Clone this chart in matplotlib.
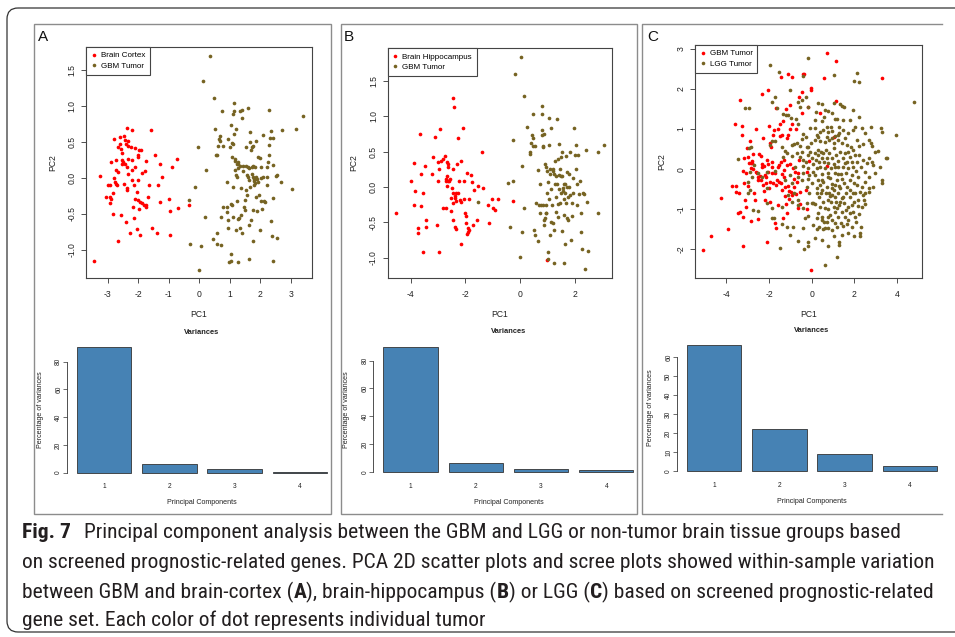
import matplotlib
matplotlib.use('Agg')
import matplotlib.pyplot as plt
import numpy as np
from matplotlib import font_manager
from matplotlib.patches import FancyBboxPatch, Rectangle
from matplotlib.lines import Line2D

W, H = 955, 637

# ---- values (PC1, PC2) ----
a_cortex = np.array([
    (-3.44, -1.15), (-3.24, 0.03), (-3.06, -0.26), (-2.98, -0.10), (-2.92, -0.10), (-2.92, -0.26),
    (-2.90, 0.22), (-2.89, -0.29), (-2.92, -0.35), (-2.84, -0.21), (-2.82, -0.50), (-2.78, 0.54),
    (-2.78, 0.00), (-2.73, 0.12), (-2.76, -0.05), (-2.71, -0.08), (-2.69, -0.10), (-2.71, 0.25),
    (-2.65, 0.43), (-2.65, 0.08), (-2.65, -0.87), (-2.58, 0.57), (-2.58, 0.48), (-2.55, 0.40),
    (-2.53, 0.20), (-2.53, 0.25), (-2.55, -0.52), (-2.52, 0.35), (-2.50, 0.22), (-2.46, 0.58),
    (-2.46, -0.08), (-2.43, 0.53), (-2.43, 0.20), (-2.41, -0.61), (-2.40, 0.47), (-2.38, 0.16),
    (-2.36, 0.70), (-2.38, -0.14), (-2.36, -0.17), (-2.32, 0.51), (-2.32, 0.45), (-2.32, 0.26),
    (-2.32, 0.06), (-2.27, -0.77), (-2.24, 0.44), (-2.21, 0.67), (-2.19, 0.25), (-2.19, 0.12),
    (-2.19, -0.02), (-2.16, -0.40), (-2.14, -0.55), (-2.12, -0.10), (-2.11, 0.42), (-2.11, -0.29),
    (-2.11, 0.16), (-2.05, -0.71), (-2.05, -0.19), (-2.02, 0.32), (-2.02, 0.30), (-2.01, -0.03),
    (-2.00, -0.30), (-1.97, 0.39), (-1.97, -0.43), (-1.95, -0.79), (-1.93, -0.33), (-1.90, 0.39),
    (-1.87, 0.07), (-1.86, -0.35), (-1.81, -0.38), (-1.78, 0.10), (-1.73, 0.24), (-1.73, -0.40),
    (-1.73, -0.37), (-1.67, -0.26), (-1.65, -0.10), (-1.59, 0.67), (-1.53, -0.69), (-1.45, 0.32),
    (-1.39, -0.77), (-1.34, -0.10), (-1.29, 0.20), (-1.29, -0.33), (-1.22, 0.01), (-0.98, -0.29),
    (-0.96, -0.46), (-0.96, -0.79), (-0.89, 0.16), (-0.71, 0.27), (-0.68, -0.41), (-0.34, -0.38),
])
a_gbm = np.array([
    (0.37, 1.70), (0.12, 1.35), (0.49, 1.11), (-0.04, 0.43), (-0.33, -0.30), (-0.15, -0.13),
    (-0.30, -0.91), (0.00, -1.28), (0.06, -0.95), (0.19, -0.54), (0.23, 0.11), (0.44, -0.85),
    (0.51, 0.69), (0.57, -0.76), (0.59, -0.92), (0.55, 0.32), (0.59, 0.32), (0.63, 0.45),
    (0.66, 0.55), (0.67, 0.59), (0.68, 0.52), (0.70, -0.93), (0.73, -0.54), (0.74, 0.93),
    (0.77, 0.45), (0.77, -0.40), (0.90, -0.40), (0.90, -0.05), (0.90, -0.47), (0.94, 0.55),
    (0.96, -0.58), (0.96, -0.70), (1.01, 0.44), (1.03, 0.74), (1.04, -1.05), (1.04, -0.36),
    (1.07, -0.37), (0.99, -1.17), (1.05, -1.16), (1.09, 0.49), (1.09, 0.30), (1.10, -0.54),
    (1.12, 0.89), (1.12, -0.12), (1.12, 0.48), (1.14, 0.93), (1.14, 1.04), (1.15, 0.61),
    (1.16, 0.24), (1.18, 0.11), (1.19, 0.27), (1.20, -0.72), (1.21, 0.69), (1.21, 0.04),
    (1.23, 0.20), (1.25, -0.32), (1.25, 0.01), (1.27, 0.14), (1.29, -0.57), (1.29, 0.20),
    (1.29, 0.23), (1.31, -0.56), (1.27, -1.17), (1.33, 0.17), (1.35, 0.94), (1.35, -0.69),
    (1.36, -0.14), (1.38, -0.52), (1.39, 0.83), (1.42, -0.76), (1.39, 0.95), (1.43, 0.10),
    (1.45, 0.17), (1.47, -0.40), (1.50, -0.30), (1.51, -0.44), (1.52, 0.44), (1.53, -0.17),
    (1.55, 0.17), (1.56, 0.04), (1.58, -0.23), (1.59, 0.16), (1.61, 0.02), (1.61, 0.98),
    (1.62, -1.13), (1.64, -0.65), (1.65, 0.14), (1.65, -0.03), (1.67, 0.64), (1.67, 0.50),
    (1.68, -0.12), (1.69, -0.58), (1.71, 0.39), (1.72, 0.06), (1.73, 0.16), (1.73, 0.44),
    (1.75, 0.02), (1.76, -0.87), (1.77, 0.45), (1.78, 0.17), (1.78, -0.45), (1.79, -0.04),
    (1.80, -0.01), (1.81, -0.09), (1.82, 0.16), (1.83, -0.01), (1.84, -0.07), (1.86, 0.02),
    (1.88, 0.51), (1.88, -0.26), (1.90, -0.46), (1.90, -0.01), (1.92, 0.29), (1.94, -0.06),
    (1.96, -0.23), (1.98, -0.72), (1.99, 0.28), (2.02, 0.00), (2.02, 0.16), (2.03, -0.32),
    (2.06, -0.43), (2.08, 0.60), (2.10, 0.01), (2.13, -0.32), (2.15, -0.33), (2.21, 0.16),
    (2.21, -0.10), (2.23, 0.01), (2.26, 0.22), (2.28, 0.95), (2.29, 0.32), (2.30, 0.46),
    (2.32, 0.56), (2.34, 0.65), (2.35, -0.60), (2.38, -0.81), (2.41, -0.27), (2.43, -1.15),
    (2.43, 0.56), (2.43, 0.18), (2.52, 0.03), (2.54, 0.05), (2.56, -0.84), (2.68, -0.05),
    (2.70, 0.67), (3.03, -0.15), (3.17, 0.69), (3.39, 0.86),
])
b_hippo = np.array([
    (-4.53, -0.36), (-3.99, 0.08), (-3.89, 0.34), (-3.84, -0.06), (-3.88, -0.25), (-3.74, -0.58),
    (-3.74, -0.65), (-3.67, 0.75), (-3.62, 0.18), (-3.63, -0.27), (-3.56, -0.08), (-3.56, -0.92),
    (-3.47, 0.30), (-3.45, -0.46), (-3.45, -0.56), (-3.21, 0.19), (-3.17, 0.43), (-3.11, 0.71),
    (-3.04, -0.53), (-3.00, 0.09), (-3.00, 0.35), (-2.97, 0.25), (-2.96, -0.91), (-2.94, 0.82),
    (-2.88, 0.37), (-2.83, -0.29), (-2.82, 0.39), (-2.74, 0.44), (-2.72, 0.09), (-2.71, -0.29),
    (-2.70, 0.11), (-2.69, 0.02), (-2.68, 0.36), (-2.67, 0.16), (-2.65, 0.29), (-2.63, 0.32),
    (-2.63, 0.08), (-2.59, 0.08), (-2.56, 0.11), (-2.53, -0.15), (-2.53, -0.34), (-2.50, -0.02),
    (-2.47, -0.22), (-2.45, 1.26), (-2.45, -0.09), (-2.44, 0.25), (-2.43, 1.13), (-2.44, -0.47),
    (-2.40, -0.12), (-2.38, -0.57), (-2.38, -0.15), (-2.36, -0.20), (-2.34, -0.09), (-2.32, 0.33),
    (-2.33, -0.59), (-2.28, -0.09), (-2.26, 0.69), (-2.24, 0.09), (-2.21, -0.18), (-2.17, -0.21),
    (-2.17, 0.37), (-2.16, -0.81), (-2.09, 0.84), (-2.06, 0.09), (-2.06, -0.17), (-2.01, -0.36),
    (-1.99, -0.51), (-1.97, -0.41), (-1.95, -0.66), (-1.95, 0.20), (-1.92, -0.58), (-1.92, -0.64),
    (-1.87, -0.17), (-1.81, 0.17), (-1.87, -0.60), (-1.75, 0.07), (-1.72, -0.54), (-1.68, -0.04),
    (-1.59, -0.46), (-1.55, 0.02), (-1.38, 0.49), (-1.35, -0.01), (-1.19, -0.25), (-1.13, -0.51),
    (-1.02, -0.17), (-0.98, -0.30), (-0.92, -0.33), (-0.80, -0.17), (-0.28, -0.19), (0.97, -1.03),
])
b_gbm = np.array([
    (0.02, 1.84), (-0.21, 1.59), (0.15, 1.28), (-0.25, 0.67), (-0.46, 0.06), (-0.28, 0.08),
    (-0.37, -0.56), (0.00, -0.99), (0.05, -0.64), (0.08, 0.30), (0.12, -0.30), (0.24, 0.85),
    (0.36, 0.49), (0.36, 0.47), (0.38, 0.62), (0.42, 0.74), (0.45, 0.69), (0.45, 1.03),
    (0.48, 0.58), (0.51, -0.61), (0.54, 0.58), (0.54, -0.68), (0.56, -0.23), (0.66, 0.24),
    (0.66, -0.76), (0.70, -0.25), (0.72, 0.04), (0.72, -0.36), (0.76, -0.25), (0.79, 0.81),
    (0.80, 1.14), (0.81, 1.03), (0.81, 0.73), (0.82, 0.58), (0.84, 0.57), (0.84, -0.25),
    (0.85, -0.54), (0.86, 0.75), (0.88, -0.47), (0.90, 0.32), (0.90, -0.43), (0.93, 0.29),
    (0.93, -0.25), (0.94, -0.36), (0.95, -0.36), (0.97, -0.09), (0.99, 0.22), (1.00, -1.02),
    (1.02, -0.91), (1.02, 0.07), (1.04, 0.97), (1.05, -0.17), (1.06, 0.59), (1.07, -0.67),
    (1.08, 0.25), (1.10, 0.18), (1.13, 0.84), (1.14, -0.03), (1.14, -0.49), (1.17, -0.25),
    (1.18, 0.26), (1.20, -0.51), (1.21, 0.23), (1.22, -0.60), (1.23, -1.07), (1.24, 0.18),
    (1.27, 0.04), (1.27, 0.37), (1.29, -0.35), (1.31, -0.14), (1.32, 0.16), (1.33, 0.04),
    (1.34, 0.96), (1.36, -0.24), (1.39, -0.42), (1.39, 0.39), (1.41, 0.61), (1.42, -0.03),
    (1.43, 0.17), (1.45, 0.26), (1.45, -0.23), (1.47, 0.42), (1.48, -0.09), (1.49, 0.15),
    (1.51, -0.62), (1.53, 0.50), (1.54, 0.15), (1.55, -0.05), (1.56, -0.02), (1.58, -0.40),
    (1.59, -1.07), (1.60, 0.05), (1.61, -0.17), (1.62, -0.81), (1.64, 0.04), (1.65, -0.09),
    (1.66, 0.44), (1.67, -0.22), (1.70, 0.00), (1.71, 0.21), (1.72, -0.43), (1.74, -0.14),
    (1.75, -0.47), (1.77, 0.00), (1.79, 0.18), (1.82, 0.50), (1.83, -0.11), (1.85, -0.75),
    (1.88, -0.41), (1.90, -0.22), (1.93, 0.13), (1.94, -0.08), (1.96, 0.84), (2.00, 0.46),
    (2.02, 0.59), (2.04, 0.25), (2.06, -0.25), (2.08, 0.05), (2.12, 0.46), (2.14, -0.10),
    (2.19, 0.08), (2.20, -0.36), (2.22, -0.64), (2.28, -0.09), (2.32, -0.10), (2.25, -0.87),
    (2.35, -1.16), (2.41, 0.52), (2.45, -0.21), (2.46, -0.90), (2.85, -0.37), (2.85, 0.49),
    (3.05, 0.60), (-1.55, -0.21),
])
c_gbm = np.array([
    (-5.08, -2.03), (-4.72, -1.66), (-4.27, -0.73), (-3.91, -1.49), (-3.75, -0.41), (-3.59, 1.14),
    (-3.56, -0.41), (-3.56, -0.56), (-3.47, -1.09), (-3.41, -0.60), (-3.36, 1.73), (-3.36, -1.06),
    (-3.28, 1.09), (-3.28, 0.85), (-3.23, -0.05), (-3.20, -1.20), (-3.20, -1.93), (-3.19, 0.27),
    (-3.16, -0.34), (-3.13, -0.77), (-3.09, -0.09), (-3.08, -0.94), (-3.05, 0.52), (-3.00, -0.42),
    (-2.97, 0.31), (-2.94, 0.15), (-2.89, 0.70), (-2.86, 0.15), (-2.84, 0.02), (-2.83, -1.29),
    (-2.81, 0.20), (-2.78, 0.16), (-2.77, 0.39), (-2.73, 0.00), (-2.69, -0.59), (-2.66, -0.77),
    (-2.63, 1.00), (-2.61, -0.06), (-2.56, -0.10), (-2.53, -0.20), (-2.50, -1.24), (-2.50, -0.27),
    (-2.45, 0.37), (-2.42, -0.17), (-2.39, 0.33), (-2.38, -0.27), (-2.34, 0.05), (-2.31, 1.87),
    (-2.31, 0.13), (-2.28, -0.39), (-2.27, 0.79), (-2.25, -0.54), (-2.23, 0.09), (-2.19, -0.14),
    (-2.19, -0.77), (-2.16, -0.20), (-2.13, -0.34), (-2.11, -1.83), (-2.09, 0.23), (-2.06, 0.12),
    (-2.03, 1.98), (-2.03, -0.06), (-2.00, 1.08), (-1.98, -0.48), (-1.97, -0.31), (-1.95, -0.81),
    (-1.94, 0.66), (-1.91, 0.56), (-1.88, 0.19), (-1.88, -0.10), (-1.84, 0.06), (-1.81, 0.85),
    (-1.80, -0.34), (-1.75, 0.98), (-1.72, -1.35), (-1.72, -0.10), (-1.69, -1.48), (-1.66, 1.52),
    (-1.66, -0.39), (-1.63, -0.27), (-1.59, 0.06), (-1.56, 1.00), (-1.56, -0.89), (-1.53, -0.31),
    (-1.52, 0.10), (-1.48, 0.83), (-1.47, 1.14), (-1.45, 0.17), (-1.44, 2.31), (-1.44, -0.35),
    (-1.41, -0.12), (-1.39, 0.85), (-1.38, -0.52), (-1.34, -1.21), (-1.33, 1.19), (-1.31, 0.23),
    (-1.30, -0.20), (-1.28, -0.02), (-1.25, -0.66), (-1.23, -0.45), (-1.22, -0.88), (-1.20, 1.50),
    (-1.17, 0.77), (-1.16, 0.10), (-1.14, -1.10), (-1.13, -0.41), (-1.09, 2.38), (-1.09, 0.85),
    (-1.06, -0.54), (-1.05, -0.74), (-1.02, 1.60), (-1.02, 0.14), (-1.00, 1.00), (-0.97, -0.58),
    (-0.94, 2.29), (-0.94, -0.64), (-0.91, 1.13), (-0.88, 0.02), (-0.84, -0.25), (-0.81, -0.44),
    (-0.78, -0.06), (-0.75, 1.00), (-0.72, -0.62), (-0.69, -0.33), (-0.66, -0.98), (-0.63, -0.09),
    (-0.59, 0.23), (-0.58, 1.79), (-0.55, -0.56), (-0.53, -0.88), (-0.47, 1.92), (-0.44, 1.39),
    (-0.41, 2.37), (-0.34, 2.37), (-0.28, -0.52), (-0.23, -1.00), (-0.20, -0.06), (-0.16, 1.54),
    (-0.11, 0.20), (-0.05, 2.02), (-0.03, 1.98), (-0.03, -2.52), (0.39, 1.39), (0.58, 2.27),
    (0.70, 2.89), (0.73, 0.09), (1.02, 0.81), (1.12, 2.70), (1.14, 1.71), (3.28, 2.27),
])
c_lgg = np.array([
    (-1.95, 2.60), (-1.53, 2.42), (-0.16, 2.77), (-0.39, 2.33), (-1.02, 1.98), (-1.72, 1.79),
    (-1.88, 1.68), (-3.13, 1.52), (-2.92, 1.52), (-1.61, 1.52), (-1.33, 1.37), (-1.22, 1.35),
    (-1.09, 1.35), (-0.97, 1.27), (-0.73, 1.24), (-0.66, 1.67), (-0.56, 1.54), (-0.47, 1.72),
    (-0.27, 1.80), (-0.16, 1.56), (0.20, 1.43), (0.31, 1.66), (0.47, 1.62), (0.63, 1.48),
    (0.75, 1.46), (1.02, 2.35), (1.05, 1.66), (1.33, 1.62), (1.41, 1.58), (1.53, 1.54),
    (1.91, 1.48), (2.11, 2.41), (1.98, 2.20), (2.23, 2.17), (2.22, 1.29), (4.81, 1.67),
    (1.09, 1.24), (1.17, 1.24), (1.45, 1.23), (1.28, 1.06), (0.47, 1.19), (0.70, 1.05),
    (0.89, 1.05), (-0.08, 1.02), (0.13, 1.02), (0.23, 0.85), (0.39, 0.94), (0.55, 0.98),
    (0.78, 0.94), (0.97, 0.95), (1.09, 0.83), (1.30, 0.91), (1.48, 0.98), (1.72, 0.90),
    (1.95, 0.98), (2.34, 1.04), (2.77, 1.05), (3.25, 1.02), (3.28, 0.94), (3.95, 0.85),
    (-0.28, 0.81), (-0.47, 0.75), (-0.70, 0.66), (-0.94, 0.60), (-0.81, 0.63), (-0.55, 0.58),
    (-0.23, 0.56), (-0.03, 0.65), (0.16, 0.73), (0.39, 0.70), (0.63, 0.69), (0.83, 0.73),
    (1.05, 0.66), (1.25, 0.73), (1.41, 0.66), (1.67, 0.60), (1.84, 0.56), (2.11, 0.73),
    (2.23, 0.59), (2.42, 0.62), (2.78, 0.66), (2.81, 0.58), (-2.92, 0.52), (-2.84, 0.55),
    (-1.95, 0.60), (-1.88, 0.71), (-1.72, 0.71), (-1.41, 0.56), (-1.25, 0.46),
    (-3.47, 0.25), (-2.69, 0.10), (-2.50, -0.09), (-2.34, -0.19), (-2.11, -0.06), (-1.72, -0.04),
    (-1.33, 0.30), (-1.17, 0.41), (-0.94, 0.33), (-0.70, 0.40), (-0.55, 0.31), (-0.47, 0.44),
    (-0.39, 0.08), (-0.28, 0.19), (-0.19, 0.35), (-0.16, 0.02), (-0.08, 0.44), (0.00, 0.27),
    (0.08, 0.13), (0.13, 0.40), (0.19, 0.23), (0.23, 0.02), (0.28, 0.48), (0.31, 0.35),
    (0.36, 0.19), (0.41, 0.06), (0.44, 0.44), (0.47, 0.29), (0.50, -0.13), (0.55, 0.40),
    (0.59, 0.19), (0.63, 0.02), (0.66, 0.48), (0.70, 0.29), (0.75, -0.10), (0.78, 0.15),
    (0.83, 0.40), (0.86, -0.23), (0.91, 0.02), (0.94, 0.27), (0.97, -0.37), (1.02, 0.52),
    (1.05, 0.13), (1.09, -0.10), (1.13, 0.35), (1.17, -0.27), (1.22, 0.06), (1.25, 0.21),
    (1.28, -0.42), (1.33, 0.44), (1.38, -0.12), (1.41, -0.25), (1.45, 0.27), (1.48, 0.05),
    (1.53, -0.35), (1.56, 0.40), (1.61, -0.10), (1.66, 0.19), (1.72, 0.02), (1.77, -0.27),
    (1.81, 0.31), (1.88, -0.15), (1.92, 0.06), (1.95, 0.48), (2.00, -0.35), (2.06, -0.04),
    (2.11, 0.19), (2.19, -0.19), (2.23, 0.35), (2.31, 0.06), (2.34, -0.44), (2.42, 0.24),
    (2.50, -0.06), (2.61, 0.15), (2.69, 0.27), (2.84, 0.19), (2.89, 0.10), (2.97, -0.10),
    (3.09, 0.46), (3.31, -0.27), (3.28, -0.35), (3.47, 0.29), (3.52, 0.27), (-0.39, -0.10),
    (-0.63, -0.19), (-0.47, -0.27), (-0.94, -0.35), (0.16, -0.15), (0.28, -0.27), (0.39, -0.40),
    (0.55, -0.33), (0.70, -0.44), (0.94, -0.48), (1.09, -0.39), (-0.16, -0.25), (0.00, -0.35),
    (-0.23, -0.44), (0.08, -0.06), (-0.11, -0.15), (1.25, -0.13), (1.67, -0.44), (2.11, -0.39),
    (2.50, -0.33), (2.66, -0.48), (-2.89, -0.06), (-2.81, -0.19), (-2.97, -0.33), (-2.11, -0.48),
    (-2.97, -0.60), (-2.89, -0.52), (-2.73, -1.02), (-2.53, -1.04), (-2.11, -0.84), (-1.84, -1.23),
    (-1.75, -1.21), (-1.41, -0.94), (-1.17, -1.44), (-0.81, -0.60), (-0.66, -0.89), (-0.42, -1.48),
    (-0.23, -0.84), (-0.13, -0.60), (0.00, -0.84), (0.08, -0.84), (0.16, -0.88), (0.23, -0.60),
    (0.28, -1.10), (0.34, -0.69), (0.39, -0.94), (0.44, -0.60), (0.50, -1.19), (0.55, -0.81),
    (0.59, -1.31), (0.63, -0.98), (0.67, -0.59), (0.70, -1.33), (0.75, -0.77), (0.78, -1.00),
    (0.83, -0.60), (0.86, -1.14), (0.91, -0.81), (0.94, -1.27), (0.97, -0.64), (1.02, -0.94),
    (1.06, -0.52), (1.09, -1.08), (1.14, -0.81), (1.17, -1.44), (1.22, -0.60), (1.25, -1.19),
    (1.28, -0.89), (1.33, -0.48), (1.38, -1.35), (1.41, -0.73), (1.44, -1.06), (1.48, -1.42),
    (1.53, -0.85), (1.56, -1.19), (1.61, -0.60), (1.66, -1.37), (1.72, -0.94), (1.77, -1.10),
    (1.81, -0.70), (1.88, -1.44), (1.92, -1.08), (1.97, -0.81), (2.03, -0.59), (2.08, -1.31),
    (2.16, -0.91), (2.22, -1.11), (2.28, -0.56), (2.31, -1.44), (2.42, -0.64), (2.47, -0.77),
    (2.70, -0.56), (2.27, -1.60), (2.27, -1.67), (1.98, -1.68), (1.72, -1.60), (1.41, -1.64),
    (1.06, -1.68), (1.28, -1.83), (1.30, -1.89), (0.94, -1.52), (0.75, -1.93), (0.50, -1.78),
    (0.16, -1.72), (-0.16, -1.83), (-0.19, -1.93), (-0.34, -2.00), (-0.66, -1.79), (-0.86, -1.44),
    (-1.02, -1.64), (-1.41, -1.37), (-1.48, -1.98), (-1.88, -0.98), (0.63, -2.39), (1.17, -2.20),
    (0.23, -1.50), (0.34, -1.44), (0.55, -1.50), (0.78, -1.48), (2.50, -0.88),
    (0.28, 0.81), (0.70, 0.81), (0.94, 0.77), (1.25, 0.85), (1.56, 0.77), (1.72, 0.44),
    (2.03, 0.35), (1.88, 0.19), (1.56, 0.15), (1.09, 0.06), (0.78, -0.19), (0.47, -0.27),
    (0.23, -0.48), (0.47, -0.52), (0.86, -0.67), (1.09, -0.69), (1.33, -0.81), (1.48, -0.69),
    (1.80, -0.52), (1.95, -0.60), (2.19, -0.77), (1.88, -0.89), (1.59, -1.02), (1.17, -0.98),
    (0.78, -1.19), (0.47, -1.27), (0.23, -1.23), (-0.16, -1.17), (-0.39, -0.98), (-0.63, -0.77),
    (-0.94, -0.81), (-1.13, -0.64), (-0.78, 0.06), (-1.02, -0.15), (-1.25, -0.27), (-0.39, 0.23),
    (-0.16, 0.56), (-0.39, 0.89), (-0.63, 1.14), (0.16, 1.23), (0.59, 1.31), (0.94, 1.39),
    (1.80, 1.23), (2.03, 1.06), (2.50, 0.90), (2.66, 0.73), (2.97, 0.44), (3.20, 0.06),
    (2.66, -0.19), (2.89, -0.44), (2.50, -0.60), (2.34, -0.94), (2.03, -1.19), (1.72, -1.27),
    (1.09, -1.35), (0.63, -1.48), (0.08, -1.39), (-0.31, -1.23),
])

components = ['1', '2', '3', '4']
var_a = [90.6, 6.1, 2.5, 0.8]
var_b = [90.0, 6.8, 2.0, 1.2]
var_c = [66.5, 22.0, 8.8, 2.7]

caption_lines = [
    [("Fig. 7", "bold"),
     ("Principal component analysis between the GBM and LGG or non-tumor brain tissue groups based", "normal")],
    [("on screened prognostic-related genes. PCA 2D scatter plots and scree plots showed within-sample variation", "normal")],
    [("between GBM and brain-cortex (", "normal"), ("A", "bold"), ("), brain-hippocampus (", "normal"),
     ("B", "bold"), (") or LGG (", "normal"), ("C", "bold"), (") based on screened prognostic-related", "normal")],
    [("gene set. Each color of dot represents individual tumor", "normal")],
]

RED = '#FF0000'
OLIVE = '#766322'
BAR = '#4682B4'
INK = '#222222'
CAP = '#231f20'

installed = {f.name for f in font_manager.fontManager.ttflist}
plot_font = 'Liberation Sans' if 'Liberation Sans' in installed else 'DejaVu Sans'
plt.rcParams['font.family'] = [plot_font, 'DejaVu Sans']

# caption wants a condensed face
cap_kw = {'family': ['DejaVu Sans']}
for name in ['Liberation Sans Narrow', 'Roboto Condensed', 'Open Sans Condensed']:
    if name in installed:
        cap_kw = {'family': [name, 'DejaVu Sans']}
        break
else:
    if any(f.name == 'DejaVu Sans' and 'condensed' in str(f.stretch)
           for f in font_manager.fontManager.ttflist):
        cap_kw = {'family': ['DejaVu Sans'], 'fontstretch': 'condensed'}

fig = plt.figure(figsize=(W / 100, H / 100), dpi=100)


def px_axes(x0, y0, x1, y1):
    # box given in image pixels, y measured from the top
    return fig.add_axes([x0 / W, 1 - y1 / H, (x1 - x0) / W, (y1 - y0) / H])


def scatter_panel(box, xlim, ylim, xticks, yticks, groups):
    ax = px_axes(*box)
    for pts, col, lab in groups:
        ax.scatter(pts[:, 0], pts[:, 1], s=7, c=col, linewidths=0)
    ax.set_xlim(xlim)
    ax.set_ylim(ylim)
    ax.set_xticks(xticks)
    ax.set_xticklabels([f"{v:g}" for v in xticks])
    ax.set_yticks(yticks)
    fmt = "{:.1f}" if any(v % 1 for v in yticks) else "{:g}"
    ax.set_yticklabels([fmt.format(v) for v in yticks], rotation=90, va='center')
    ax.tick_params(direction='out', length=3.5, width=0.6, color='#333333',
                   labelsize=6.2, labelcolor=INK)
    ax.tick_params(axis='x', pad=5)
    ax.tick_params(axis='y', pad=3.5)
    for s in ax.spines.values():
        s.set_linewidth(0.8)
        s.set_color('#444444')
    ax.set_xlabel('PC1', fontsize=6.2, labelpad=8, color=INK)
    ax.set_ylabel('PC2', fontsize=6.2, labelpad=7.5, color=INK)
    handles = [Line2D([], [], marker='o', ls='', ms=2.6, mec='none', mfc=col) for _, col, _ in groups]
    leg = ax.legend(handles, [g[2] for g in groups], loc='upper left', bbox_to_anchor=(0, 1),
                    borderaxespad=0, fancybox=False, framealpha=1, edgecolor='#444444',
                    fontsize=5.8, handlelength=0.7, handletextpad=0.5, borderpad=0.6,
                    labelspacing=0.35)
    leg.get_frame().set_linewidth(0.8)
    return ax


def bar_panel(box, values, yticks):
    ax = px_axes(*box)
    pos = 0.7 + 1.2 * np.arange(len(values))
    ax.bar(pos, values, width=1.0, color=BAR, edgecolor='#333333', linewidth=0.6)
    ax.set_xlim(0.016, 4.984)
    m = max(values)
    ax.set_ylim(-0.04 * m, 1.04 * m)
    ax.set_facecolor('none')
    for k in ('top', 'right', 'bottom'):
        ax.spines[k].set_visible(False)
    ax.spines['left'].set_bounds(0, yticks[-1])
    ax.spines['left'].set_linewidth(0.6)
    ax.spines['left'].set_color('#333333')
    ax.set_xticks(pos)
    ax.set_xticklabels(components)
    ax.tick_params(axis='x', length=0, pad=4, labelsize=4.8, labelcolor=INK)
    ax.set_yticks(yticks)
    ax.set_yticklabels([str(v) for v in yticks], rotation=90, va='center')
    ax.tick_params(axis='y', length=2.7, width=0.5, pad=0.8, labelsize=4.8,
                   color='#333333', labelcolor=INK)
    ax.set_title('Variances', fontsize=5.4, fontweight='bold', pad=6, color=INK)
    ax.set_xlabel('Principal Components', fontsize=5.1, labelpad=6.5, color=INK)
    ax.set_ylabel('Percentage of variances', fontsize=5.1, labelpad=8, color=INK)
    return ax


half = [-1.0, -0.5, 0.0, 0.5, 1.0, 1.5]
scatter_panel((86, 47, 312, 278), (-3.71, 3.70), (-1.39, 1.825), [-3, -2, -1, 0, 1, 2, 3], half,
              [(a_cortex, RED, 'Brain Cortex'), (a_gbm, OLIVE, 'GBM Tumor')])
scatter_panel((387.7, 48.3, 612.3, 277.7), (-4.84, 3.36), (-1.28, 1.96), [-4, -2, 0, 2], half,
              [(b_hippo, RED, 'Brain Hippocampus'), (b_gbm, OLIVE, 'GBM Tumor')])
scatter_panel((695, 45, 922.3, 277.7), (-5.47, 5.18), (-2.71, 3.10), [-4, -2, 0, 2, 4],
              [-2, -1, 0, 1, 2, 3],
              [(c_gbm, RED, 'GBM Tumor'), (c_lgg, OLIVE, 'LGG Tumor')])

bar_panel((67, 342, 337, 477.7), var_a, [0, 20, 40, 60, 80])
bar_panel((373.3, 341.7, 643.5, 477), var_b, [0, 20, 40, 60, 80])
bar_panel((677, 340, 947, 476), var_c, [0, 10, 20, 30, 40, 50, 60])

# overlay in pixel coordinates for frames, letters and caption
bg = fig.add_axes([0, 0, 1, 1], zorder=10)
bg.set_xlim(0, W)
bg.set_ylim(H, 0)
bg.axis('off')
bg.patch.set_alpha(0)

bg.add_patch(FancyBboxPatch((7, 8), 1000, 624, boxstyle='round,pad=0,rounding_size=11',
                            fill=False, ec='#333333', lw=0.9))
frame = dict(fill=False, ec='#8c8c8c', lw=1.0)
bg.add_patch(Rectangle((34, 24), 297, 490, **frame))
bg.add_patch(Rectangle((341, 24), 296, 490, **frame))
bg.plot([942, 642, 642, 942], [24, 24, 514, 514], color='#8c8c8c', lw=1.0)

for x, letter in [(37.5, 'A'), (344, 'B'), (647, 'C')]:
    bg.text(x, 41.3, letter, fontsize=11, va='baseline', ha='left', color='#111111')

renderer = fig.canvas.get_renderer()


def seg_width(s, fs, weight):
    t = bg.text(0, 0, s, fontsize=fs, fontweight=weight, **cap_kw)
    w = t.get_window_extent(renderer).width
    t.remove()
    return w


ref_line = caption_lines[1][0][0]
fs = 14 * 918 / seg_width(ref_line, 14, 'normal')

baselines = [537.5, 567.5, 598, 626.5]
for segs, yb in zip(caption_lines, baselines):
    x = 22
    for i, (s, wgt) in enumerate(segs):
        if segs is caption_lines[0] and i == 1:
            x = 84
        t = bg.text(x, yb, s, fontsize=fs, fontweight=wgt, va='baseline', ha='left',
                    color=CAP, **cap_kw)
        x += t.get_window_extent(renderer).width

fig.savefig('out.png', dpi=100, facecolor='white')
